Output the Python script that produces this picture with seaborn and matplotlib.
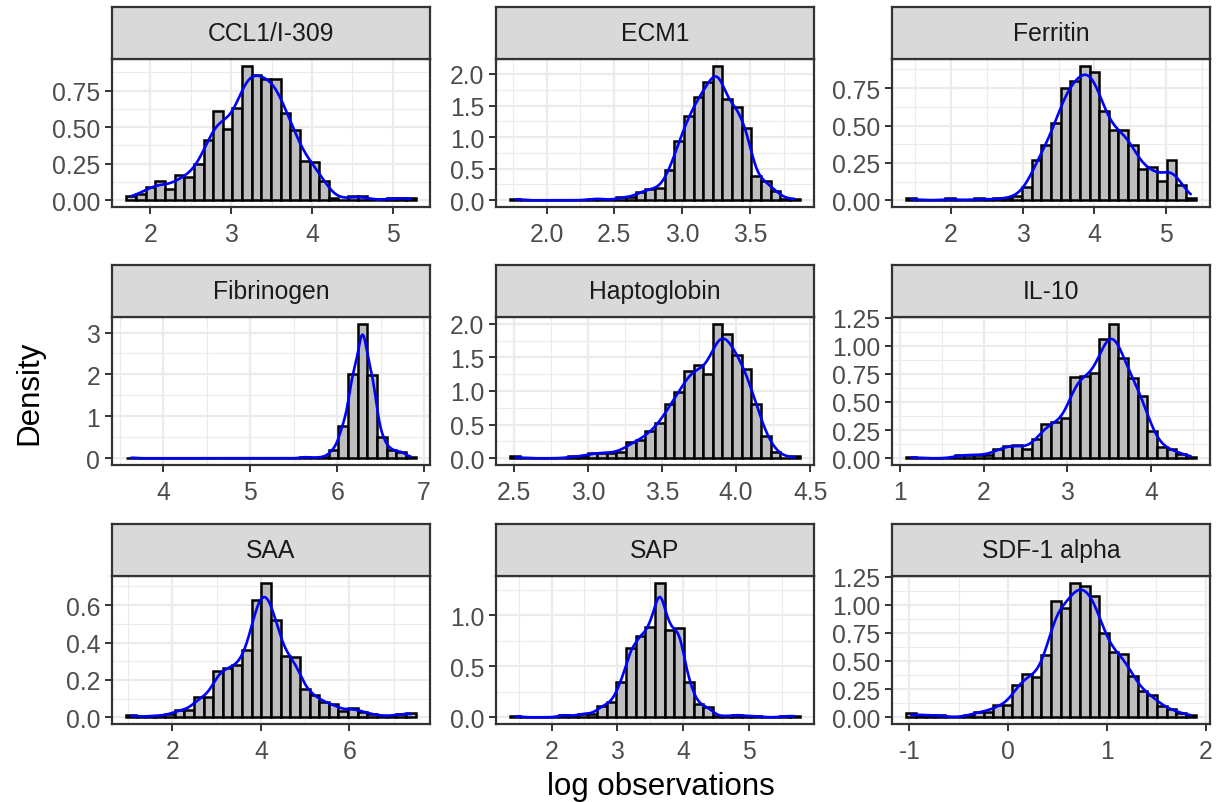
import numpy as np
import pandas as pd
import matplotlib
matplotlib.use("Agg")
import matplotlib.pyplot as plt
import seaborn as sns

# ---------------- data ----------------
panel_names = ["CCL1/I-309", "ECM1", "Ferritin",
               "Fibrinogen", "Haptoglobin", "IL-10",
               "SAA", "SAP", "SDF-1 alpha"]

# histogram range (left edge of first bin, right edge of last bin), 30 bins each
bin_lo = [1.705, 1.734, 1.38, 3.574, 2.478, 1.079, 0.959, 1.376, -1.03]
bin_hi = [5.28, 3.866, 5.41, 6.902, 4.429, 4.533, 7.498, 5.765, 1.897]

ccl1 = [0.03, 0.045, 0.09, 0.13, 0.075, 0.17, 0.16, 0.245, 0.41, 0.61, 0.49, 0.63, 0.92, 0.86, 0.83,
        0.83, 0.60, 0.48, 0.27, 0.26, 0.13, 0.015, 0.0, 0.03, 0.03, 0.0, 0.0, 0.015, 0.015, 0.015]
ecm1 = [0.025, 0, 0, 0, 0, 0, 0, 0, 0.025, 0.025, 0, 0.05, 0.05, 0.13, 0.18,
        0.2, 0.48, 0.94, 1.34, 1.63, 1.87, 2.13, 1.6, 1.48, 1.15, 0.38, 0.30, 0.15, 0.025, 0.025]
ferritin = [0.013, 0, 0, 0, 0.013, 0, 0, 0.013, 0, 0.013, 0.013, 0.027, 0.09, 0.27, 0.37,
            0.52, 0.75, 0.80, 0.90, 0.86, 0.60, 0.47, 0.47, 0.37, 0.21, 0.22, 0.13, 0.27, 0.10, 0.013]
fibrinogen = [0.016, 0, 0, 0, 0, 0, 0, 0, 0, 0, 0, 0, 0, 0, 0,
              0, 0, 0, 0.03, 0.016, 0.03, 0.2, 0.77, 2.0, 3.21, 1.98, 0.5, 0.2, 0.16, 0.03]
haptoglobin = [0.027, 0, 0, 0, 0, 0, 0.027, 0.027, 0.08, 0.08, 0.08, 0.10, 0.24, 0.27, 0.40,
               0.52, 0.80, 0.98, 1.29, 1.38, 1.26, 2.0, 1.84, 1.54, 1.32, 0.81, 0.33, 0.10, 0.0, 0.027]
il10 = [0.015, 0, 0, 0, 0, 0.03, 0.03, 0.03, 0.03, 0.08, 0.11, 0.12, 0.08, 0.17, 0.30,
        0.32, 0.36, 0.72, 0.73, 0.76, 1.06, 1.195, 0.89, 0.71, 0.55, 0.24, 0.10, 0.08, 0.04, 0.015]
saa = [0.014, 0, 0.008, 0.008, 0.016, 0.04, 0.04, 0.11, 0.11, 0.25, 0.265, 0.28, 0.36, 0.63, 0.72,
       0.52, 0.33, 0.32, 0.15, 0.12, 0.08, 0.07, 0.035, 0.05, 0.03, 0.016, 0.008, 0.008, 0.016, 0.025]
sap = [0.012, 0, 0, 0, 0, 0.024, 0.012, 0.036, 0.036, 0.11, 0.15, 0.35, 0.68, 0.80, 0.89,
       1.32, 0.86, 0.88, 0.35, 0.13, 0.10, 0.012, 0.012, 0.024, 0.012, 0.012, 0, 0, 0.012, 0.012]
sdf1 = [0.035, 0.018, 0.018, 0.018, 0, 0, 0.018, 0.05, 0.05, 0.11, 0.11, 0.29, 0.38, 0.36, 0.55,
        1.03, 0.97, 1.195, 1.17, 1.08, 0.75, 0.58, 0.56, 0.37, 0.23, 0.20, 0.10, 0.07, 0.035, 0.018]
heights = [ccl1, ecm1, ferritin, fibrinogen, haptoglobin, il10, saa, sap, sdf1]

n_obs = 560  # approximate sample size per panel

x_ticks = [[2, 3, 4, 5], [2.0, 2.5, 3.0, 3.5], [2, 3, 4, 5],
           [4, 5, 6, 7], [2.5, 3.0, 3.5, 4.0, 4.5], [1, 2, 3, 4],
           [2, 4, 6], [2, 3, 4, 5], [-1, 0, 1, 2]]
x_labels = [["2", "3", "4", "5"], ["2.0", "2.5", "3.0", "3.5"], ["2", "3", "4", "5"],
            ["4", "5", "6", "7"], ["2.5", "3.0", "3.5", "4.0", "4.5"], ["1", "2", "3", "4"],
            ["2", "4", "6"], ["2", "3", "4", "5"], ["-1", "0", "1", "2"]]
y_ticks = [[0, 0.25, 0.5, 0.75], [0, 0.5, 1.0, 1.5, 2.0], [0, 0.25, 0.5, 0.75],
           [0, 1, 2, 3], [0, 0.5, 1.0, 1.5, 2.0], [0, 0.25, 0.5, 0.75, 1.0, 1.25],
           [0, 0.2, 0.4, 0.6], [0, 0.5, 1.0], [0, 0.25, 0.5, 0.75, 1.0, 1.25]]
y_labels = [["0.00", "0.25", "0.50", "0.75"], ["0.0", "0.5", "1.0", "1.5", "2.0"],
            ["0.00", "0.25", "0.50", "0.75"], ["0", "1", "2", "3"],
            ["0.0", "0.5", "1.0", "1.5", "2.0"], ["0.00", "0.25", "0.50", "0.75", "1.00", "1.25"],
            ["0.0", "0.2", "0.4", "0.6"], ["0.0", "0.5", "1.0"],
            ["0.00", "0.25", "0.50", "0.75", "1.00", "1.25"]]

# ---------------- style ----------------
sns.set_theme(style="white")
plt.rcParams['font.family'] = ['Liberation Sans', 'DejaVu Sans']

W, H = 1217, 803
fig = plt.figure(figsize=(W / 100, H / 100), dpi=100)

col_left = [112, 496, 892]
panel_w = 318
row_top = [60, 318, 577]
panel_h = 148
strip_h = 52

GRID = '#EBEBEB'
DARK = '#333333'
FS = 17.8


def px_rect(left, top, w, h):
    return [left / W, 1 - (top + h) / H, w / W, h / H]


def minor_breaks(ticks):
    t = np.asarray(ticks, dtype=float)
    step = t[1] - t[0]
    return np.concatenate([[t[0] - step / 2], (t[:-1] + t[1:]) / 2, [t[-1] + step / 2]])


for i, name in enumerate(panel_names):
    r, c = divmod(i, 3)
    h = np.asarray(heights[i], dtype=float)
    edges = np.linspace(bin_lo[i], bin_hi[i], len(h) + 1)
    centers = (edges[:-1] + edges[1:]) / 2
    binw = edges[1] - edges[0]
    df = pd.DataFrame({"value": centers, "density": h})

    ax = fig.add_axes(px_rect(col_left[c], row_top[r], panel_w, panel_h))

    sns.histplot(data=df, x="value", weights="density", bins=list(edges), stat="count",
                 color="#BEBEBE", edgecolor="black", linewidth=1.8, alpha=1.0, ax=ax)

    # density overlay (bandwidth like R's nrd0, kept wide enough for binned input)
    w = h / h.sum()
    var_raw = np.sum(w * (centers - np.sum(w * centers)) ** 2) + binw ** 2 / 12
    sd_raw = np.sqrt(var_raw)
    cum = np.concatenate([[0], np.cumsum(w)])
    q1 = np.interp(0.25, cum, edges)
    q3 = np.interp(0.75, cum, edges)
    bw = 0.9 * min(sd_raw, (q3 - q1) / 1.34) * n_obs ** (-0.2)
    bw_k = max(np.sqrt(max(bw ** 2 - binw ** 2 / 12, 0.0)), 0.5 * binw)
    sd_np = np.sqrt(np.cov(centers, aweights=h))
    sns.kdeplot(data=df, x="value", weights="density", bw_method=float(bw_k / sd_np), cut=0,
                gridsize=512, color="blue", linewidth=1.9, ax=ax)

    ax.set_xticks(x_ticks[i])
    ax.set_xticklabels(x_labels[i])
    ax.set_yticks(y_ticks[i])
    ax.set_yticklabels(y_labels[i])
    ax.set_xticks(minor_breaks(x_ticks[i]), minor=True)
    ax.set_yticks(minor_breaks(y_ticks[i]), minor=True)

    # limits with ggplot-like 5% expansion (set after ticks so they are not widened)
    ymax = h.max()
    for ln in ax.get_lines():
        ymax = max(ymax, np.max(ln.get_ydata()))
    ax.set_ylim(-0.05 * ymax, 1.05 * ymax)
    xr = bin_hi[i] - bin_lo[i]
    ax.set_xlim(bin_lo[i] - 0.05 * xr, bin_hi[i] + 0.05 * xr)

    ax.set_axisbelow(True)
    ax.grid(True, which="major", color=GRID, linewidth=1.6)
    ax.grid(True, which="minor", color=GRID, linewidth=0.8)
    ax.tick_params(which="major", labelsize=FS, labelcolor="#4D4D4D", color=DARK,
                   length=5, width=1.4, bottom=True, left=True)
    ax.tick_params(axis="x", which="major", pad=5.5)
    ax.tick_params(axis="y", which="major", pad=3.5)
    ax.tick_params(which="minor", length=0)
    for sp in ax.spines.values():
        sp.set_color(DARK)
        sp.set_linewidth(1.6)
    ax.set_xlabel("")
    ax.set_ylabel("")
    ax.set_facecolor("white")

    # facet strip
    sax = fig.add_axes(px_rect(col_left[c], row_top[r] - strip_h, panel_w, strip_h))
    sax.set_facecolor("#D9D9D9")
    sax.set_xticks([])
    sax.set_yticks([])
    for sp in sax.spines.values():
        sp.set_color(DARK)
        sp.set_linewidth(1.6)
    sax.text(0.5, 0.5, name, ha="center", va="center", fontsize=FS,
             color="#1A1A1A", transform=sax.transAxes)

fig.text(661 / W, 1 - 787 / H, "log observations", ha="center", va="center",
         fontsize=22.5, color="black")
fig.text(29 / W, 1 - 393 / H, "Density", ha="center", va="center",
         fontsize=22.5, color="black", rotation=90)

fig.savefig("out.png", dpi=100, facecolor="white")
